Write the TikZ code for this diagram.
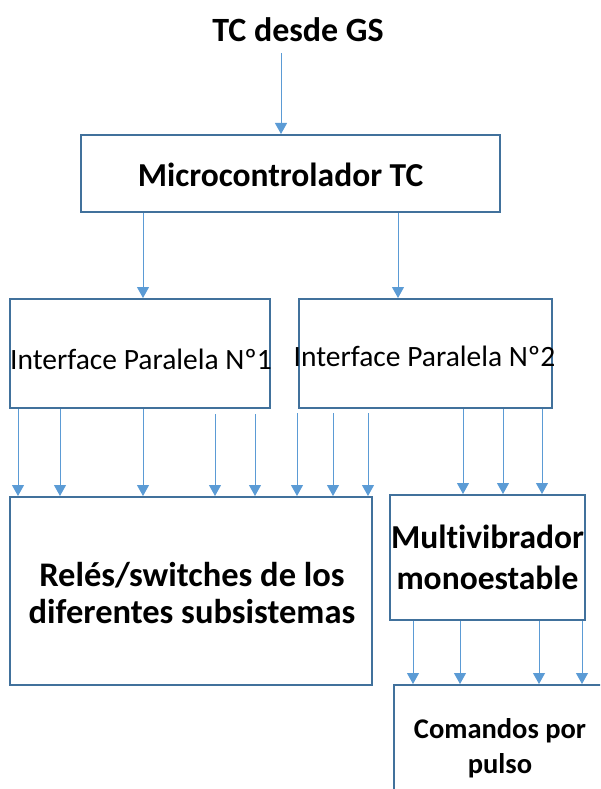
\documentclass[tikz,border=0pt]{standalone}
\usepackage{fontspec}
\setmainfont{Carlito}[Ligatures=NoCommon]
\usetikzlibrary{arrows.meta}

\definecolor{boxblue}{RGB}{65,113,156}
\definecolor{arrowblue}{RGB}{91,155,213}

\tikzset{
  blk/.style={draw=boxblue, line width=2pt, inner sep=0pt},
  lbl/.style={font=\bfseries, align=center, inner sep=0pt},
  sig/.style={draw=arrowblue, line width=1pt, -{Triangle[length=11pt,width=12pt,fill=arrowblue]}},
}

\begin{document}
\begin{tikzpicture}[x=1pt,y=-1pt]
\useasboundingbox (0,0) rectangle (600,789);
\clip (0,0) rectangle (600,789);

% input
\node[lbl, font=\fontsize{34}{40}\selectfont\bfseries] (gs) at (298,30) {TC desde GS};

% blocks
\node[blk, minimum width=419pt, minimum height=77pt,
  label={[lbl, font=\fontsize{33.5}{40}\selectfont\bfseries, xshift=-10pt, yshift=-1pt]center:Microcontrolador TC}]
  (micro) at (290.5,173.5) {};
\node[blk, minimum width=260pt, minimum height=109pt,
  label={[lbl, font=\fontsize{29.5}{35}\selectfont, xshift=1pt, yshift=-6pt]center:Interface Paralela Nº1}]
  (ifa) at (140,353.5) {};
\node[blk, minimum width=253pt, minimum height=109pt,
  label={[lbl, font=\fontsize{29.5}{35}\selectfont, xshift=-1pt, yshift=-3pt]center:Interface Paralela Nº2}]
  (ifb) at (425.5,353.5) {};
\node[blk, minimum width=362pt, minimum height=188pt,
  label={[lbl, font=\fontsize{34.5}{37}\selectfont\bfseries, xshift=1pt, yshift=-2pt]center:Relés/switches de los\\diferentes subsistemas}]
  (reles) at (191,591) {};
\node[blk, minimum width=195pt, minimum height=125pt,
  label={[lbl, font=\fontsize{33.5}{41}\selectfont\bfseries]center:Multivibrador\\monoestable}]
  (multi) at (487.5,557.5) {};
\node[blk, minimum width=226pt, minimum height=125pt,
  label={[lbl, font=\fontsize{28.5}{35}\selectfont\bfseries, xshift=-7pt, yshift=-1pt]center:Comandos por\\pulso}]
  (cmd) at (507,747.5) {};

% connectors
\draw[sig, shorten <=11pt] (gs.south -| 281,0) -- (micro.north -| 281,0);
\draw[sig] (micro.south -| 143,0) -- (ifa.north -| 143,0);
\draw[sig] (micro.south -| 398,0) -- (ifb.north -| 398,0);

\foreach \px in {18,60,143}
  \draw[sig] (ifa.south -| \px,0) -- (reles.north -| \px,0);
\foreach \px in {215,255}
  \draw[sig, shorten <=5pt] (ifa.south -| \px,0) -- (reles.north -| \px,0);
\foreach \px in {297,333,368}
  \draw[sig, shorten <=4pt] (ifb.south -| \px,0) -- (reles.north -| \px,0);
\foreach \px in {463,503,542}
  \draw[sig] (ifb.south -| \px,0) -- (multi.north -| \px,0);
\foreach \px in {413,460,539,582}
  \draw[sig] (multi.south -| \px,0) -- (cmd.north -| \px,0);

\end{tikzpicture}
\end{document}
